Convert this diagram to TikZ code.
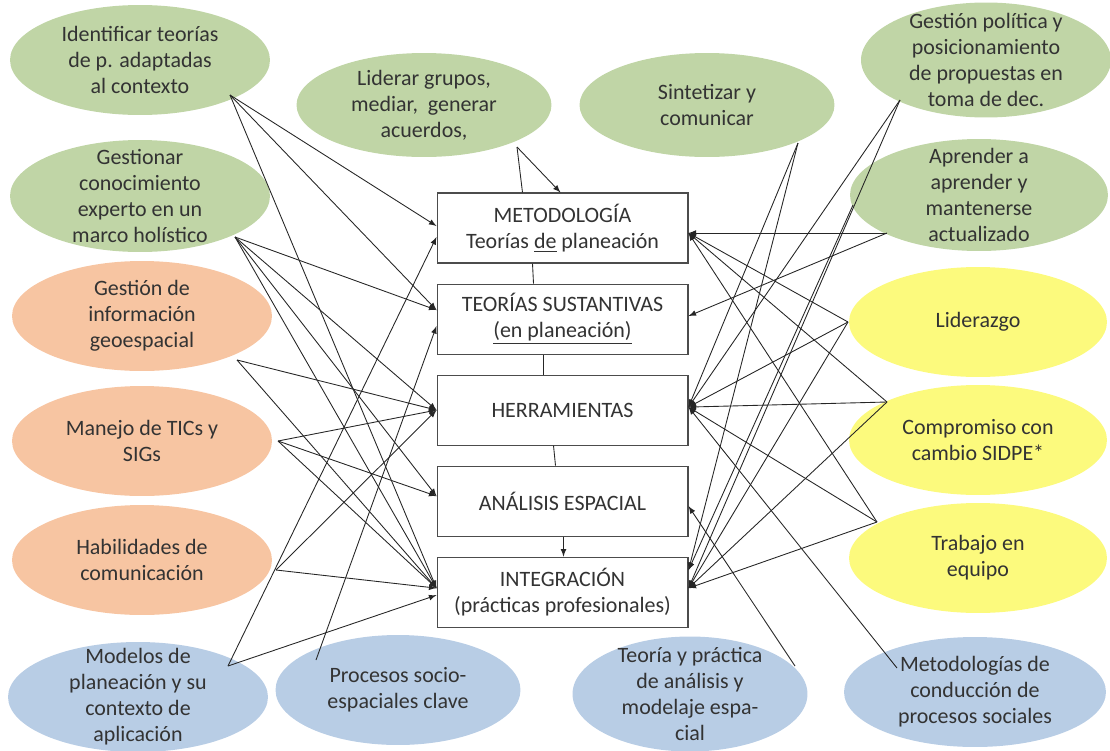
\documentclass[tikz,border=0pt]{standalone}
\usepackage{fontspec}
\setmainfont{Carlito}
\usepackage{tikz}
\usetikzlibrary{shapes,arrows,positioning,calc}
\usepackage{xcolor}
\definecolor{verde}{RGB}{192,213,166}
\definecolor{naranja}{RGB}{247,197,162}
\definecolor{amarillo}{RGB}{252,250,125}
\definecolor{azul}{RGB}{184,205,229}

\begin{document}
\begin{tikzpicture}[
            x=0.02cm, y=-0.02cm,
            >=latex,
            every node/.style={font=\fontsize{12.5}{14.8}\selectfont, text=black!80},
            bubble/.style={ellipse, minimum width=5.2cm, minimum height=2.2cm, inner sep=-8pt, align=center},
            verdebub/.style={bubble, fill=verde},
            naranjabub/.style={bubble, fill=naranja},
            amarillobub/.style={bubble, fill=amarillo},
            azulbub/.style={bubble, fill=azul},
            caja/.style={rectangle, draw=black!70, line width=0.6pt, fill=white, minimum width=5.02cm, minimum height=1.4cm, align=center},
            enlace/.style={->, draw=black!85, line width=0.5pt},
            linea/.style={draw=black!85, line width=0.5pt}
        ]
            \useasboundingbox (0,0) rectangle (1110,751);

            \node[verdebub] (idf) at (140,60) {Identificar teorías\\de p. adaptadas\\al contexto};
            \node[verdebub, minimum height=2.24cm] (ges) at (140,196) {Gestionar\\conocimiento\\experto en un\\marco holístico};
            \node[naranjabub] (geo) at (142,316) {Gestión de\\información\\geoespacial};
            \node[naranjabub] (tic) at (142,441) {Manejo de TICs y\\SIGs};
            \node[naranjabub] (hab) at (142,560) {Habilidades de\\comunicación};
            \node[azulbub] (mod) at (138,697) {Modelos de\\planeación y su\\contexto de\\aplicación};

            \node[verdebub, minimum width=5.1cm, minimum height=2.08cm] (lid) at (424,105) {Liderar grupos,\\mediar, \ generar\\acuerdos,};
            \node[verdebub, minimum width=5.1cm, minimum height=2.08cm] (sin) at (707,105) {Sintetizar y\\comunicar};

            \node[verdebub, minimum width=5cm, minimum height=2.3cm] (pol) at (986,60) {Gestión política y\\posicionamiento\\de propuestas en\\toma de dec.};
            \node[verdebub, minimum width=5.16cm, minimum height=2.24cm] (apr) at (979,195) {Aprender a\\aprender y\\mantenerse\\actualizado};
            \node[amarillobub, minimum width=5.16cm] (lider) at (978,322) {Liderazgo};
            \node[amarillobub, minimum width=5.16cm] (comp) at (978,440) {Compromiso con\\cambio SIDPE*};
            \node[amarillobub, minimum width=5.16cm] (trab) at (978,558) {Trabajo en\\equipo};
            \node[azulbub, minimum width=5.24cm] (msoc) at (975,692) {Metodologías de\\conducción de\\procesos sociales};

            \node[azulbub, minimum width=4.9cm] (proc) at (398,690) {Procesos socio-\\espaciales clave};
            \node[azulbub, minimum width=4.7cm, minimum height=2.3cm] (teo) at (690,694) {Teoría y práctica\\de análisis y\\modelaje espa-\\cial};

            \node[caja] (metod) at (562.5,228) {METODOLOGÍA\\Teorías \underline{de} planeación};
            \node[caja, below=0.4cm of metod] (teor) {TEORÍAS SUSTANTIVAS\\\underline{(en planeación)}};
            \node[caja, below=0.4cm of teor] (herr) {HERRAMIENTAS};
            \node[caja, below=0.4cm of herr] (anal) {ANÁLISIS ESPACIAL};
            \node[caja, below=0.4cm of anal] (integ) {INTEGRACIÓN\\(prácticas profesionales)};

            \coordinate (idf-o) at (230,95);
            \coordinate (ges-o) at (235,237);
            \coordinate (geo-o) at (237,360);
            \coordinate (tic-o) at (278,441);
            \coordinate (hab-o) at (276,570);
            \coordinate (mod-o) at (228,666);
            \coordinate (proc-o) at (316,660);
            \coordinate (lid-o) at (517,147);
            \coordinate (sin-o) at (798,143);
            \coordinate (pol-o) at (900,100);
            \coordinate (apr-o) at (887,233);
            \coordinate (apr-o2) at (853,205);
            \coordinate (lider-o) at (848,322);
            \coordinate (comp-o) at (887,402);
            \coordinate (trab-o) at (877,522);
            \coordinate (teo-o) at (795,666);
            \coordinate (msoc-o) at (897,668);

            \coordinate (metod-w1) at ($(metod.west)+(0,-2)$);
            \coordinate (metod-w2) at ($(metod.west)+(0,9)$);
            \coordinate (metod-e) at ($(metod.east)+(0,5)$);
            \coordinate (metod-n1) at ($(metod.north)+(-2,0)$);
            \coordinate (metod-n2) at ($(metod.north)+(-40,0)$);
            \coordinate (teor-w1) at ($(teor.west)+(0,-9)$);
            \coordinate (teor-w2) at ($(teor.west)+(0,7)$);
            \coordinate (teor-e) at ($(teor.east)+(0,-3)$);
            \coordinate (herr-w) at (herr.west);
            \coordinate (herr-e) at ($(herr.east)+(0,-3)$);
            \coordinate (anal-w) at ($(anal.west)+(0,-5)$);
            \coordinate (anal-e) at ($(anal.east)+(0,5)$);
            \coordinate (integ-w1) at ($(integ.west)+(0,-4)$);
            \coordinate (integ-w2) at ($(integ.west)+(0,3)$);
            \coordinate (integ-e1) at ($(integ.east)+(0,-4)$);
            \coordinate (integ-e2) at ($(integ.east)+(0,-22)$);

            \foreach \a/\b in {idf-o/metod-w1, idf-o/teor-w1, idf-o/integ-w1,
                ges-o/teor-w1, ges-o/herr-w, ges-o/anal-w, ges-o/integ-w1,
                geo-o/herr-w, geo-o/integ-w1,
                tic-o/herr-w, tic-o/anal-w, tic-o/integ-w1,
                hab-o/herr-w, hab-o/integ-w1,
                mod-o/metod-w2, mod-o/integ-w2,
                proc-o/teor-w2,
                lid-o/metod-n1,
                sin-o/herr-e, sin-o/integ-e2,
                pol-o/herr-e, pol-o/integ-e1,
                apr-o/metod-e, apr-o/teor-e, apr-o2/integ-e2,
                lider-o/metod-e, lider-o/herr-e, lider-o/integ-e1,
                comp-o/metod-e, comp-o/herr-e, comp-o/integ-e1,
                trab-o/metod-e, trab-o/herr-e, trab-o/integ-e1,
                teo-o/anal-e, msoc-o/herr-e}
                \draw[enlace] (\a) -- (\b);

            \draw[linea] (lid-o) -- (metod-n2);
            \draw[linea] ($(metod.south)+(-30,0)$) -- ($(teor.north)+(-29,0)$);
            \draw[linea] ($(teor.south)+(-19,0)$) -- ($(herr.north)+(-19,0)$);
            \draw[linea] ($(herr.south)+(-9,0)$) -- ($(anal.north)+(-7,0)$);
            \draw[enlace] ($(anal.south)+(1,0)$) -- ($(integ.north)+(1,0)$);
        \end{tikzpicture}
\end{document}
